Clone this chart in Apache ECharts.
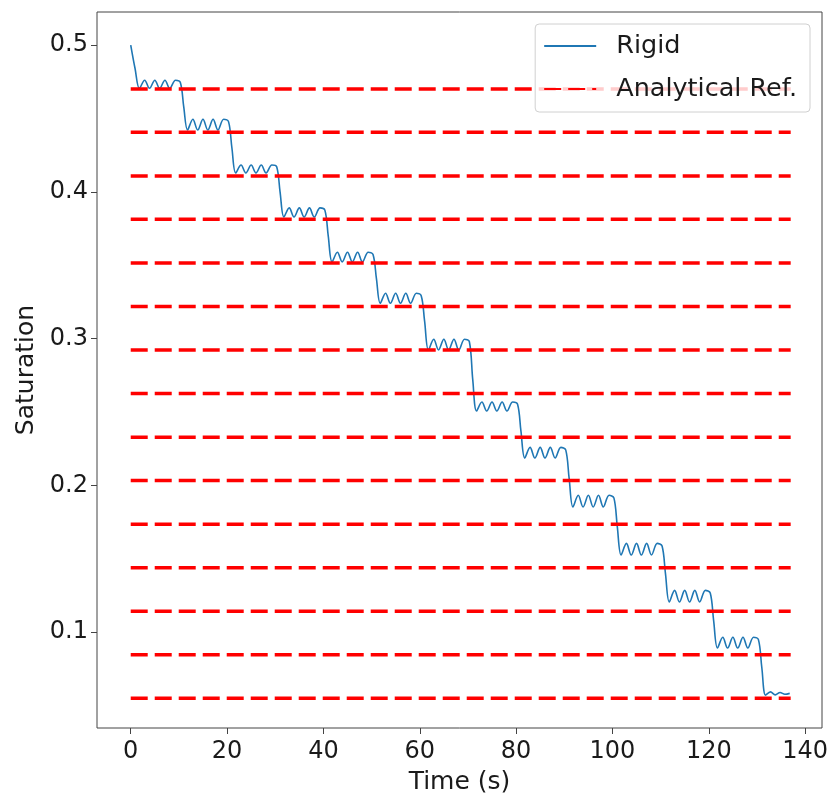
<!DOCTYPE html>
<html>
<head>
<meta charset="utf-8">
<title>Saturation</title>
<script src="https://cdn.jsdelivr.net/npm/echarts@6/dist/echarts.min.js"></script>
<style>
  html, body { margin: 0; padding: 0; background: #fff; }
  #main { width: 833px; height: 798px; }
</style>
</head>
<body>
<div id="main"></div>
<script>
"use strict";
/**静态数据**/
// Rigid 曲线 [time, saturation]
var rigid = [
  [0, 0.5], [0.9, 0.484],
  [1.8, 0.4705], [2.9, 0.4760], [3.9, 0.4705], [5.0, 0.4760], [6.0, 0.4705], [7.1, 0.4760], [8.1, 0.4705], [9.3, 0.4760], [10.3, 0.4745], [11.0, 0.458],
  [11.8, 0.4421], [12.9, 0.4494], [13.9, 0.4421], [15.0, 0.4494], [16.0, 0.4421], [17.1, 0.4494], [18.1, 0.4421], [19.3, 0.4494], [20.3, 0.4478], [21.0, 0.430],
  [21.8, 0.4128], [22.9, 0.4182], [23.9, 0.4128], [25.0, 0.4182], [26.0, 0.4128], [27.1, 0.4182], [28.1, 0.4128], [29.3, 0.4182], [30.3, 0.4170], [31.0, 0.400],
  [31.8, 0.3828], [32.9, 0.3890], [33.9, 0.3828], [35.0, 0.3890], [36.0, 0.3828], [37.1, 0.3890], [38.1, 0.3828], [39.3, 0.3890], [40.3, 0.3875], [41.0, 0.370],
  [41.8, 0.3522], [42.9, 0.3588], [43.9, 0.3522], [45.0, 0.3588], [46.0, 0.3522], [47.1, 0.3588], [48.1, 0.3522], [49.3, 0.3588], [50.3, 0.3572], [51.0, 0.341],
  [51.8, 0.3240], [52.9, 0.3308], [53.9, 0.3240], [55.0, 0.3308], [56.0, 0.3240], [57.1, 0.3308], [58.1, 0.3240], [59.3, 0.3308], [60.3, 0.3292], [61.0, 0.312],
  [61.8, 0.2922], [62.9, 0.2995], [63.9, 0.2922], [65.0, 0.2995], [66.0, 0.2922], [67.1, 0.2995], [68.1, 0.2922], [69.3, 0.2995], [70.3, 0.2978], [71.0, 0.272],
  [71.8, 0.2506], [72.9, 0.2567], [73.9, 0.2506], [75.0, 0.2567], [76.0, 0.2506], [77.1, 0.2567], [78.1, 0.2506], [79.3, 0.2567], [80.3, 0.2552], [81.0, 0.237],
  [81.8, 0.2186], [82.9, 0.2258], [83.9, 0.2186], [85.0, 0.2258], [86.0, 0.2186], [87.1, 0.2258], [88.1, 0.2186], [89.3, 0.2258], [90.3, 0.2241], [91.0, 0.205],
  [91.8, 0.1852], [92.9, 0.1932], [93.9, 0.1852], [95.0, 0.1932], [96.0, 0.1852], [97.1, 0.1932], [98.1, 0.1852], [99.3, 0.1932], [100.3, 0.1914], [101.0, 0.172],
  [101.8, 0.1525], [102.9, 0.1604], [103.9, 0.1525], [105.0, 0.1604], [106.0, 0.1525], [107.1, 0.1604], [108.1, 0.1525], [109.3, 0.1604], [110.3, 0.1586], [111.0, 0.140],
  [111.8, 0.1205], [112.9, 0.1284], [113.9, 0.1205], [115.0, 0.1284], [116.0, 0.1205], [117.1, 0.1284], [118.1, 0.1205], [119.3, 0.1284], [120.3, 0.1266], [121.0, 0.108],
  [121.8, 0.0891], [122.9, 0.0964], [123.9, 0.0891], [125.0, 0.0964], [126.0, 0.0891], [127.1, 0.0964], [128.1, 0.0891], [129.3, 0.0964], [130.3, 0.0948], [131.0, 0.076],
  [131.8, 0.0570], [132.8, 0.0592], [133.8, 0.0572], [134.8, 0.0588], [135.8, 0.0576], [136.8, 0.0582]
];
// 解析参考值（红色虚线）
var refLevels = [0.470, 0.4405, 0.4108, 0.3812, 0.3515, 0.3218, 0.2922, 0.2625,
  0.2328, 0.2032, 0.1735, 0.1438, 0.1142, 0.0845, 0.0548];
var refStart = 0, refEnd = 137;
var xTicks = [0, 20, 40, 60, 80, 100, 120, 140];

var font = "DejaVu Sans";
var chart = echarts.init(document.getElementById("main"), null, {renderer: "canvas"});

var series = [{
  name: "Rigid",
  type: "line",
  data: rigid,
  smooth: 0.35,
  symbol: "none",
  lineStyle: {color: "#1f77b4", width: 1.6},
  itemStyle: {color: "#1f77b4"},
  z: 2
}];
refLevels.forEach(function (v) {
  series.push({
    name: "Analytical Ref.",
    type: "line",
    data: [[refStart, v], [refEnd, v]],
    symbol: "none",
    lineStyle: {color: "#ff0000", width: 3.5, type: [17, 7]},
    itemStyle: {color: "#ff0000"},
    z: 3
  });
});

chart.setOption({
  animation: false,
  grid: {
    left: 97, right: 11, top: 12, bottom: 70,
    outerBoundsMode: "none", containLabel: false,
    show: true, borderColor: "#444", borderWidth: 1, backgroundColor: "#fff"
  },
  legend: {
    data: ["Rigid", "Analytical Ref."],
    orient: "vertical",
    right: 23, top: 24,
    padding: [9, 13, 10, 8],
    itemWidth: 52, itemHeight: 2, itemGap: 17,
    itemStyle: {opacity: 0},
    backgroundColor: "rgba(255,255,255,0.8)",
    borderColor: "#d0d0d0", borderWidth: 1, borderRadius: 4,
    textStyle: {fontFamily: font, fontSize: 25.5, lineHeight: 24, color: "#1a1a1a", padding: [0, 0, 0, 15]}
  },
  xAxis: {
    type: "value",
    min: -7.0, max: 143.5,
    minInterval: 20, maxInterval: 20,
    name: "Time (s)", nameLocation: "middle", nameGap: 42,
    nameTextStyle: {fontFamily: font, fontSize: 25, color: "#1a1a1a"},
    axisLine: {show: false, onZero: false},
    axisTick: {show: true, length: 6, lineStyle: {color: "#444"}},
    axisLabel: {
      fontFamily: font, fontSize: 24, color: "#1a1a1a", margin: 12,
      showMinLabel: false, showMaxLabel: false,
      formatter: function (v) { return xTicks.indexOf(v) >= 0 ? String(v) : ""; }
    },
    splitLine: {show: false}
  },
  yAxis: {
    type: "value",
    min: 0.0346, max: 0.5225,
    minInterval: 0.1, maxInterval: 0.1,
    name: "Saturation", nameLocation: "middle", nameGap: 58, nameRotate: 90,
    nameTextStyle: {fontFamily: font, fontSize: 25, color: "#1a1a1a"},
    axisLine: {show: false, onZero: false},
    axisTick: {show: true, length: 6, lineStyle: {color: "#444"}},
    axisLabel: {
      fontFamily: font, fontSize: 24, color: "#1a1a1a", margin: 9,
      showMinLabel: false, showMaxLabel: false,
      formatter: function (v) { return (Math.round(v * 10) / 10).toFixed(1); }
    },
    splitLine: {show: false}
  },
  series: series
});
</script>
</body>
</html>
